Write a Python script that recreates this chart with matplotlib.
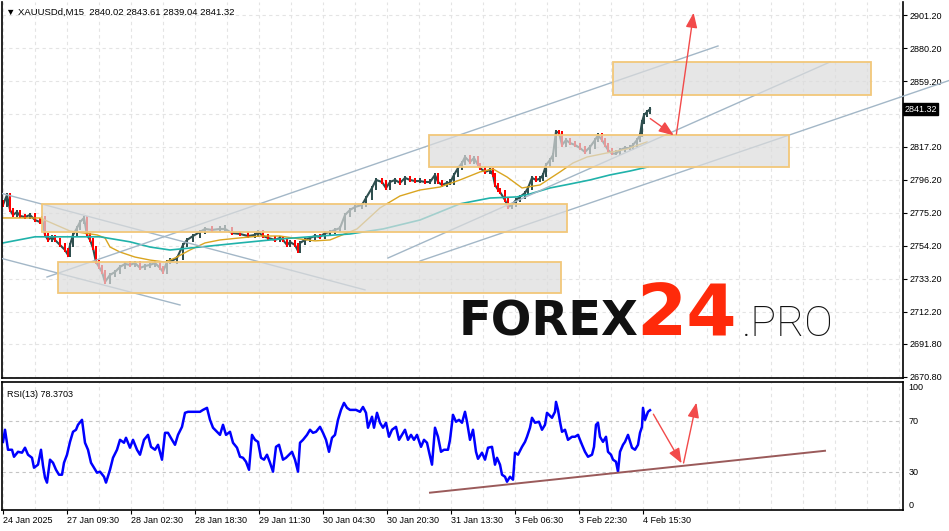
import matplotlib.pyplot as plt
import numpy as np

W, H = 949, 531

# price closes (bar index, price), M15 bars
bar_x = [3, 7, 10, 13, 17, 20, 25, 30, 35, 40, 42, 45, 48, 52, 55, 60, 65, 68, 70, 73,
         77, 80, 84, 87, 90, 93, 96, 99, 102, 105, 110, 115, 120, 125, 130, 135, 140, 145, 150, 155,
         160, 163, 167, 170, 177, 183, 187, 193, 200, 205, 212, 220, 225, 232, 240, 248, 255, 258, 263, 268,
         275, 280, 283, 287, 290, 295, 298, 300, 305, 310, 315, 320, 325, 330, 335, 340, 345, 350, 355, 362,
         366, 372, 376, 382, 386, 390, 395, 400, 405, 410, 415, 420, 425, 430, 435, 438, 442, 447, 450, 454,
         458, 462, 465, 470, 474, 478, 480, 485, 490, 493, 495, 498, 500, 505, 508, 512, 516, 520, 525, 528,
         532, 536, 540, 543, 546, 550, 553, 556, 559, 562, 566, 570, 575, 580, 585, 590, 595, 598, 602, 605,
         608, 612, 616, 620, 625, 630, 633, 637, 640, 642, 644, 647, 650]
bar_close = [2780.3, 2786.6, 2777.1, 2773.9, 2775.8, 2773.3, 2772.6, 2773.9, 2770.7, 2769.4,
             2772.0, 2761.2, 2758.0, 2759.9, 2758.0, 2754.8, 2751.6, 2748.4, 2754.8, 2761.2,
             2765.6, 2769.4, 2772.0, 2761.2, 2758.0, 2752.9, 2744.0, 2740.8, 2737.6, 2731.3,
             2735.7, 2737.6, 2740.8, 2742.7, 2742.1, 2743.3, 2740.2, 2741.4, 2742.1, 2743.3,
             2740.2, 2737.6, 2744.0, 2744.0, 2746.5, 2754.8, 2758.0, 2760.5, 2763.1, 2765.0,
             2764.4, 2765.0, 2765.0, 2762.4, 2761.8, 2760.5, 2761.2, 2763.1, 2760.5, 2759.3,
             2758.0, 2759.3, 2758.0, 2754.8, 2756.7, 2754.8, 2751.0, 2756.1, 2758.0, 2759.3,
             2760.5, 2759.9, 2762.4, 2763.1, 2764.4, 2765.6, 2773.9, 2777.1, 2779.0, 2780.3,
             2784.7, 2791.1, 2796.2, 2794.9, 2791.0, 2794.9, 2796.2, 2794.3, 2797.5, 2796.2,
             2795.5, 2795.5, 2794.9, 2794.9, 2799.4, 2794.9, 2793.0, 2794.3, 2794.3, 2799.4,
             2803.8, 2807.0, 2810.8, 2807.6, 2810.2, 2805.7, 2803.8, 2801.3, 2802.5, 2799.4,
             2793.0, 2790.0, 2788.5, 2783.4, 2779.0, 2780.3, 2783.4, 2785.4, 2787.9, 2791.1,
             2797.5, 2796.2, 2797.0, 2799.4, 2805.7, 2808.9, 2812.1, 2827.0, 2826.1, 2818.5,
             2821.6, 2819.7, 2818.5, 2816.5, 2814.0, 2817.2, 2821.6, 2824.8, 2821.6, 2818.5,
             2815.3, 2813.0, 2813.0, 2815.3, 2816.5, 2816.5, 2818.5, 2821.6, 2824.8, 2833.1,
             2837.5, 2839.5, 2841.32]
first_open = 2782.0

# moving averages
ma_fast_x = [3, 40, 70, 97, 105, 110, 120, 135, 150, 165, 175, 190, 205, 220, 240, 260, 280, 300,
             315, 330, 357, 380, 400, 420, 440, 460, 480, 493, 507, 522, 540, 560, 573, 587, 607, 627, 647]
ma_fast = [2772.0, 2772.0, 2763.7, 2761.2, 2759.3, 2753.5, 2750.3, 2747.1, 2745.2, 2743.9, 2746.5,
           2751.6, 2756.1, 2758.0, 2759.3, 2760.5, 2760.5, 2758.6, 2757.4, 2758.0, 2765.0, 2778.4,
           2786.0, 2789.8, 2791.7, 2796.2, 2801.3, 2803.2, 2798.1, 2791.1, 2793.0, 2801.3, 2807.0,
           2810.8, 2813.4, 2815.9, 2820.4]
ma_slow_x = [3, 35, 100, 130, 150, 170, 200, 240, 280, 320, 350, 383, 420, 460, 490, 517, 530, 550,
             570, 590, 610, 630, 648]
ma_slow = [2756.1, 2760.0, 2760.0, 2756.8, 2753.5, 2751.6, 2753.5, 2756.1, 2758.6, 2760.5, 2761.8,
           2765.0, 2770.7, 2781.0, 2784.7, 2785.4, 2787.3, 2791.1, 2793.6, 2796.2, 2799.4, 2801.9,
           2804.5]

# RSI(13)
rsi_x = [3, 5, 8, 12, 14, 18, 22, 25, 28, 32, 34, 38, 41, 43, 45, 47, 50, 53, 56, 59,
         62, 64, 67, 70, 73, 76, 78, 82, 85, 88, 91, 94, 97, 100, 104, 106, 110, 113, 117, 120,
         124, 126, 130, 133, 137, 140, 144, 148, 151, 155, 158, 162, 165, 168, 172, 175, 178, 182, 185, 188,
         192, 196, 200, 203, 207, 210, 213, 217, 220, 223, 226, 230, 233, 237, 240, 243, 246, 249, 252, 255,
         258, 261, 264, 267, 270, 273, 276, 279, 283, 286, 289, 292, 295, 298, 300, 303, 307, 310, 313, 316,
         320, 323, 326, 329, 332, 335, 338, 341, 344, 347, 350, 353, 356, 360, 363, 366, 368, 372, 374, 377,
         380, 383, 386, 389, 392, 396, 399, 402, 405, 408, 411, 414, 417, 421, 424, 427, 429, 432, 435, 438,
         441, 444, 448, 450, 453, 456, 459, 462, 465, 467, 470, 473, 476, 478, 482, 485, 488, 492, 495, 497,
         500, 502, 505, 507, 510, 513, 515, 518, 522, 525, 527, 530, 532, 535, 539, 542, 545, 547, 552, 555,
         556, 558, 560, 562, 565, 568, 572, 575, 578, 582, 585, 588, 592, 594, 596, 598, 600, 603, 606, 608,
         611, 613, 616, 618, 620, 623, 625, 628, 632, 635, 638, 640, 642, 643, 645, 648, 650]
rsi = [53.5, 63.0, 47.3, 47.3, 41.8, 45.7, 45.0, 48.9, 43.4, 41.0, 33.2, 35.6, 47.3, 34.8, 25.4, 21.5, 39.5, 37.1, 31.6, 27.7,
       27.7, 37.1, 43.4, 53.5, 61.4, 63.0, 66.9, 70.8, 52.8, 47.3, 37.1, 33.2, 29.3, 30.1, 26.1, 21.5, 31.6, 41.0, 47.3, 55.1,
       52.8, 56.7, 48.9, 55.1, 47.3, 43.4, 55.1, 59.0, 49.6, 47.3, 51.2, 39.5, 60.6, 60.6, 55.1, 51.2, 59.0, 65.3, 76.3, 77.1,
       77.1, 77.1, 77.1, 78.6, 80.2, 70.8, 64.6, 61.4, 59.0, 66.9, 59.0, 61.4, 52.8, 48.9, 41.8, 41.0, 37.9, 31.6, 59.0, 55.1,
       53.5, 41.0, 39.5, 43.4, 37.1, 30.1, 49.6, 51.2, 39.5, 41.0, 43.4, 45.7, 39.5, 30.1, 52.8, 55.1, 59.0, 63.0, 60.6, 61.4,
       65.3, 60.6, 55.1, 45.7, 56.7, 59.0, 70.8, 78.6, 84.1, 80.2, 78.6, 78.6, 78.6, 77.1, 80.9, 76.3, 64.6, 73.2, 64.6, 76.3,
       68.5, 64.6, 68.5, 57.5, 63.0, 65.3, 55.1, 59.0, 63.0, 55.1, 59.0, 55.1, 59.0, 49.6, 55.1, 52.8, 45.7, 35.6, 64.6, 57.5,
       45.7, 47.3, 47.3, 55.1, 74.7, 69.3, 70.8, 68.5, 77.1, 69.3, 55.1, 63.0, 45.7, 40.2, 45.0, 39.5, 48.9, 49.6, 35.6, 41.0,
       35.6, 27.7, 26.1, 22.2, 26.1, 23.8, 45.0, 43.4, 49.6, 53.5, 57.5, 64.6, 72.4, 68.5, 69.3, 63.0, 66.9, 76.3, 72.4, 77.1,
       84.9, 78.6, 69.3, 61.4, 63.0, 55.1, 57.5, 57.5, 59.0, 51.2, 45.7, 41.8, 43.4, 49.6, 66.9, 68.5, 57.5, 53.5, 57.5, 45.7,
       43.4, 39.5, 37.9, 30.1, 45.7, 51.2, 53.5, 59.0, 48.9, 47.3, 51.2, 60.6, 65.3, 80.2, 70.8, 77.1, 78.37]

# axis ticks (2838.20 sits under the price tag, so only its tick is drawn)
price_ticks = [2901.2, 2880.2, 2859.2, 2838.2, 2817.2, 2796.2, 2775.2, 2754.2, 2733.2, 2712.2, 2691.8, 2670.8]
price_labels = ["2901.20", "2880.20", "2859.20", "", "2817.20", "2796.20", "2775.20",
                "2754.20", "2733.20", "2712.20", "2691.80", "2670.80"]
time_ticks = [3, 67, 131, 195, 259, 323, 387, 451, 515, 579, 643]
time_labels = ["24 Jan 2025", "27 Jan 09:30", "28 Jan 02:30", "28 Jan 18:30", "29 Jan 11:30",
               "30 Jan 04:30", "30 Jan 20:30", "31 Jan 13:30", "3 Feb 06:30", "3 Feb 22:30", "4 Feb 15:30"]

# drawn objects: zones (x0, x1, price low, price high) and trend lines (x0, p0, x1, p1)
zones = [(42, 567, 2763.1, 2780.9), (58, 561, 2724.3, 2744.0),
         (429, 789, 2804.5, 2824.8), (613, 871, 2850.3, 2871.3)]
trend_lines = [(47, 2734.4, 718, 2881.5), (388, 2746.5, 830, 2871.3), (420, 2744.6, 949, 2859.5),
               (0, 2787.9, 365, 2726.2), (0, 2746.5, 180, 2716.6)]
arrow_main = [(648, 2836.3), (676, 2823.6), (694, 2904.4)]
arrow_rsi = [(652, 77.1), (683, 34.8), (697, 86.4)]
rsi_trend = (430, 13.6, 825, 46.5)

last_price = 2841.32
header = "\u25bc XAUUSDd,M15  2840.02 2843.61 2839.04 2841.32"

plt.rcParams['font.family'] = ['Liberation Sans', 'DejaVu Sans']


def rect(l, t, r, b):
    # pixel box -> figure fraction
    return [l / W, 1 - b / H, (r - l) / W, (b - t) / H]


fig = plt.figure(figsize=(W / 100, H / 100), dpi=100)
ax = fig.add_axes(rect(2, 2, 903, 378))
ax2 = fig.add_axes(rect(2, 382, 903, 510))

grid_x = np.arange(3, 903, 32)
for a in (ax, ax2):
    a.set_xlim(2, 903)
    for gx in grid_x:
        a.axvline(gx, color='#e4e4e4', lw=0.8, ls=(0, (3, 3)), zorder=0)
    for s in a.spines.values():
        s.set_color('black')
        s.set_linewidth(1.2)
ax.spines['top'].set_visible(False)

ax.set_ylim(2670.1, 2909.5)
for p in price_ticks:
    ax.axhline(p, color='#e4e4e4', lw=0.8, ls=(0, (3, 3)), zorder=0)

# candles: thin bodies joined by a dark close line
opens = [first_open] + bar_close[:-1]
ax.plot(bar_x, bar_close, color='#2f4f4f', lw=1.5, zorder=1.9)
for x, o, c in zip(bar_x, opens, bar_close):
    col = '#2f4f4f' if c >= o else '#ff0000'
    lo, hi = min(o, c), max(o, c)
    ax.bar(x, max(hi - lo, 1.0) + 2.4, bottom=lo - 1.2, width=2.6, color=col, lw=0, zorder=2)

ax.plot(ma_fast_x, ma_fast, color='#daa520', lw=1.0, zorder=2.5)
ax.plot(ma_slow_x, ma_slow, color='#20b2aa', lw=1.2, zorder=2.5)

for x0, p0, x1, p1 in trend_lines:
    ax.plot([x0, x1], [p0, p1], color='#a3b7c7', lw=1.0, zorder=2.6, clip_on=(x1 <= 903))

for x0, x1, lo, hi in zones:
    ax.add_patch(plt.Rectangle((x0, lo), x1 - x0, hi - lo, facecolor='#dcdcdc', alpha=0.7,
                               edgecolor='none', zorder=3))
    ax.add_patch(plt.Rectangle((x0, lo), x1 - x0, hi - lo, facecolor='none',
                               edgecolor='#f2c77a', lw=1.3, zorder=3.1))

for (xa, ya), (xb, yb) in zip(arrow_main[:-1], arrow_main[1:]):
    ax.annotate('', xy=(xb, yb), xytext=(xa, ya), zorder=4,
                arrowprops=dict(arrowstyle='-|>,head_length=0.9,head_width=0.35', color='#f24a4a', lw=1.0))

ax.yaxis.tick_right()
ax.set_yticks(price_ticks)
ax.set_yticklabels(price_labels, fontsize=6.5)
ax.tick_params(axis='y', length=3, width=0.8, pad=2, direction='out')
ax.set_xticks([])

ax.text(1.0015, last_price, f"{last_price:.2f}", transform=ax.get_yaxis_transform(), fontsize=6.5,
        color='white', va='center', ha='left', zorder=6, clip_on=False,
        bbox=dict(boxstyle='square,pad=0.15', facecolor='black', edgecolor='black'))

ax.text(0.004, 0.985, header, transform=ax.transAxes, fontsize=6.8, va='top', ha='left')

# logo
fig.text(459 / W, 1 - 336 / H, "FOREX", family='DejaVu Sans', weight='bold', fontsize=34.5, color='#111111')
fig.text(636 / W, 1 - 336 / H, "24", family='DejaVu Sans', weight='bold', fontsize=52, color='#ff2a0a')
fig.text(742 / W, 1 - 336 / H, ".PRO", family='Roboto', weight='light', fontsize=31, color='#111111')

# RSI pane
ax2.set_ylim(0.3, 100.5)
for lvl in (70, 30):
    ax2.axhline(lvl, color='#c4c4c4', lw=0.8, ls=(0, (3, 3)), zorder=0)
ax2.plot(rsi_x, rsi, color='#0000ff', lw=1.8, zorder=2)
ax2.plot([rsi_trend[0], rsi_trend[2]], [rsi_trend[1], rsi_trend[3]], color='#9a5a5a', lw=1.4, zorder=2.5)
for (xa, ya), (xb, yb) in zip(arrow_rsi[:-1], arrow_rsi[1:]):
    ax2.annotate('', xy=(xb, yb), xytext=(xa, ya), zorder=4,
                 arrowprops=dict(arrowstyle='-|>,head_length=0.9,head_width=0.35', color='#f24a4a', lw=1.0))
ax2.yaxis.tick_right()
ax2.set_yticks([100, 70, 30, 0])
ax2.set_yticklabels(["100", "70", "30", "0"], fontsize=6.5)
ax2.tick_params(axis='y', length=0, pad=4)
ax2.get_yticklabels()[0].set_va('top')
ax2.get_yticklabels()[3].set_va('bottom')
ax2.set_xticks(time_ticks)
ax2.set_xticklabels(time_labels, fontsize=6.5, ha='left')
ax2.tick_params(axis='x', length=3, width=0.8, pad=1)
ax2.text(0.006, 0.94, "RSI(13) 78.3703", transform=ax2.transAxes, fontsize=6.5, va='top', ha='left')

fig.savefig("out.png", dpi=100)
